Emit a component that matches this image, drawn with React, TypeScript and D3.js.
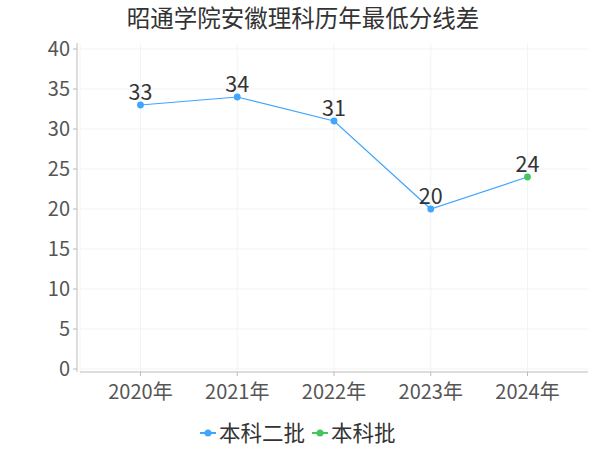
import React from "react";
import * as d3 from "d3";

const title = "昭通学院安徽理科历年最低分线差";
const years = ["2020年", "2021年", "2022年", "2023年", "2024年"];
const seriesNames = ["本科二批", "本科批"];
// which series each year's point belongs to
const pointSeries = [0, 0, 0, 0, 1];
const values = [33, 34, 31, 20, 24];
const yTicks = [0, 5, 10, 15, 20, 25, 30, 35, 40];

const colors = ["#3fa5ff", "#45c55d"];
const font = "'Noto Sans CJK SC', 'Noto Sans', sans-serif";

const width = 600;
const height = 450;
const plot = { left: 80, right: 588, top: 49, bottom: 369 };

const App: React.FC = () => {
  const x = d3
    .scalePoint<string>()
    .domain(years)
    .range([plot.left, plot.right])
    .padding(0.625);

  const y = d3.scaleLinear().domain([0, 40]).range([plot.bottom, plot.top]);

  const line = d3
    .line<number>()
    .x((_, i) => x(years[i]) ?? 0)
    .y((d) => y(d));

  const axisY = 372;
  const axisX = 77;

  // legend layout
  const legendStarts = [200, 312];

  return (
    <svg
      width={width}
      height={height}
      style={{ position: "absolute", left: 0, top: 0, background: "#fff" }}
      fontFamily={font}
    >
      <text x={303} y={27} textAnchor="middle" fontSize={23.5} fill="#333">
        {title}
      </text>

      {/* grid */}
      <g stroke="#f3f3f3" strokeWidth={1}>
        {yTicks.map((t) => (
          <line key={t} x1={plot.left} x2={plot.right} y1={y(t)} y2={y(t)} />
        ))}
        {years.map((yr) => (
          <line key={yr} x1={x(yr)} x2={x(yr)} y1={43} y2={axisY} />
        ))}
        <line x1={plot.left} x2={plot.left} y1={43} y2={axisY} />
      </g>

      {/* y axis */}
      <line x1={axisX} x2={axisX} y1={43} y2={axisY} stroke="#bbb" />
      {yTicks.map((t) => (
        <g key={t}>
          <line x1={axisX - 4} x2={axisX} y1={y(t)} y2={y(t)} stroke="#bbb" />
          <text
            x={70}
            y={y(t)}
            dy="0.36em"
            textAnchor="end"
            fontSize={20}
            fill="#555"
          >
            {t}
          </text>
        </g>
      ))}

      {/* x axis */}
      <line x1={plot.left} x2={plot.right} y1={axisY} y2={axisY} stroke="#bbb" />
      {years.map((yr) => (
        <g key={yr}>
          <line x1={x(yr)} x2={x(yr)} y1={axisY} y2={axisY + 4} stroke="#bbb" />
          <text
            x={x(yr)}
            y={399}
            textAnchor="middle"
            fontSize={20}
            fill="#555"
          >
            {yr}
          </text>
        </g>
      ))}

      {/* line */}
      <path d={line(values) ?? ""} fill="none" stroke={colors[0]} strokeWidth={1.2} />
      {values.map((v, i) => (
        <g key={i}>
          <circle
            cx={x(years[i])}
            cy={y(v)}
            r={3.4}
            fill={colors[pointSeries[i]]}
          />
          <text
            x={x(years[i])}
            y={y(v) - 5}
            textAnchor="middle"
            fontSize={21.5}
            fill="#333"
          >
            {v}
          </text>
        </g>
      ))}

      {/* legend */}
      {seriesNames.map((name, i) => (
        <g key={name} transform={`translate(${legendStarts[i]},433)`}>
          <line x1={0} x2={16} y1={0} y2={0} stroke={colors[i]} strokeWidth={2} />
          <circle cx={8} cy={0} r={3.5} fill={colors[i]} />
          <text x={19} y={0} dy="0.36em" fontSize={21.5} fill="#333">
            {name}
          </text>
        </g>
      ))}
    </svg>
  );
};

export default App;
